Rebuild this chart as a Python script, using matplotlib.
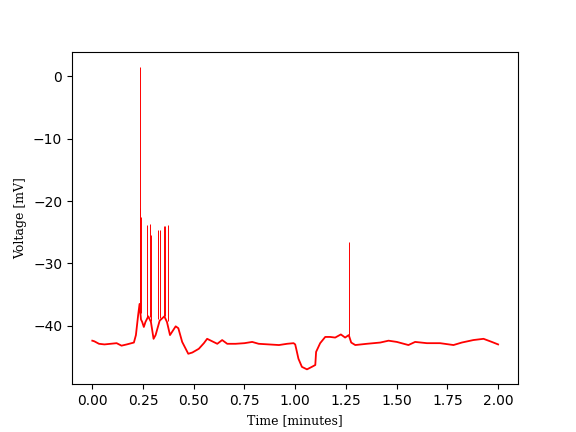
import matplotlib
matplotlib.use("Agg")
import matplotlib.pyplot as plt

# slow membrane potential (minutes, mV)
time_min = [0.000, 0.010, 0.033, 0.060, 0.090, 0.120, 0.144, 0.170, 0.205, 0.215,
            0.226, 0.233, 0.240, 0.246, 0.254, 0.262, 0.276, 0.289, 0.302, 0.312,
            0.332, 0.345, 0.355, 0.368, 0.383, 0.393, 0.411, 0.424, 0.443, 0.473,
            0.493, 0.525, 0.550, 0.566, 0.591, 0.616, 0.640, 0.665, 0.706, 0.750,
            0.788, 0.820, 0.870, 0.920, 0.960, 0.992, 1.000, 1.005, 1.016, 1.033,
            1.058, 1.082, 1.099, 1.103, 1.123, 1.148, 1.172, 1.197, 1.225, 1.246,
            1.264, 1.276, 1.296, 1.353, 1.419, 1.460, 1.501, 1.558, 1.591, 1.649,
            1.714, 1.780, 1.821, 1.878, 1.928, 1.969, 2.000]
voltage = [-42.4, -42.5, -42.9, -43.0, -42.9, -42.8, -43.2, -43.0, -42.7, -41.5,
           -38.3, -36.5, -39.0, -39.4, -40.2, -39.4, -38.5, -39.4, -42.1, -41.5,
           -39.2, -38.8, -38.5, -39.4, -41.5, -41.0, -40.1, -40.4, -42.6, -44.5,
           -44.3, -43.7, -42.8, -42.1, -42.5, -42.9, -42.3, -42.9, -42.9, -42.8,
           -42.6, -42.9, -43.0, -43.1, -42.9, -42.8, -43.0, -43.7, -45.3, -46.6,
           -47.0, -46.6, -46.3, -44.2, -42.8, -41.8, -41.8, -41.9, -41.4, -41.9,
           -41.5, -42.7, -43.1, -42.9, -42.7, -42.4, -42.6, -43.1, -42.6, -42.8,
           -42.8, -43.1, -42.7, -42.3, -42.1, -42.6, -43.0]

# action potentials
spike_t = [0.235, 0.237, 0.239, 0.272, 0.282, 0.289, 0.325, 0.335, 0.353, 0.358, 0.373, 1.266]
spike_base = [-37.0, -37.5, -38.0, -38.8, -38.6, -39.2, -39.0, -38.8, -38.5, -38.5, -39.2, -41.5]
spike_peak = [1.5, -21.2, -22.5, -23.9, -23.7, -25.4, -24.6, -24.6, -24.0, -24.0, -23.8, -26.5]

plt.figure(figsize=(5.76, 4.32), dpi=100)
plt.plot(time_min, voltage, color="red", linewidth=1.3)
plt.vlines(spike_t, spike_base, spike_peak, color="red", linewidth=0.7)
plt.xlabel("Time [minutes]", fontfamily="DejaVu Serif", fontsize=9)
plt.ylabel("Voltage [mV]", fontfamily="DejaVu Serif", fontsize=9)
plt.xticks([0, 0.25, 0.5, 0.75, 1.0, 1.25, 1.5, 1.75, 2.0])
plt.savefig("out.png", dpi=100)
